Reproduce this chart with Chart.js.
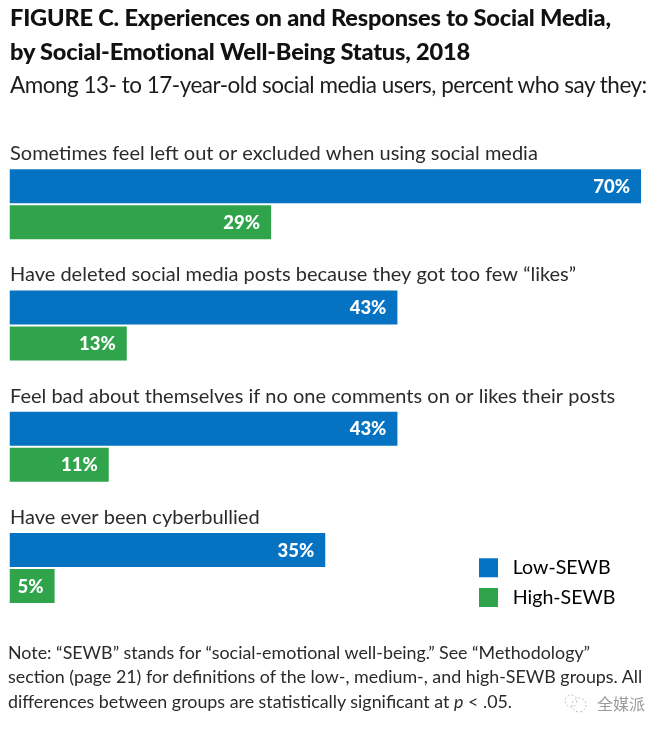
<!DOCTYPE html>
<html><head><meta charset="utf-8">
<script src="https://cdn.jsdelivr.net/npm/chart.js@4"></script>
<style>
html,body{margin:0;padding:0;background:#fff;}
#wrap{position:relative;width:665px;height:732px;overflow:hidden;}
canvas{position:absolute;left:0;top:0;}
svg{position:absolute;left:563px;top:694px;}
.t{position:absolute;white-space:nowrap;font-family:Lato,sans-serif;color:#1c1c1c;}
.h{left:10px;font-size:23.6px;font-weight:900;color:#111;letter-spacing:-.2px;}
.n{left:8px;font-size:17.85px;color:#2a2a2a;}
</style></head><body>
<div id="wrap">
<canvas id="c" width="665" height="732"></canvas>
<div class="t h" style="top:3px">FIGURE C. Experiences on and Responses to Social Media,</div>
<div class="t h" style="top:37px">by Social-Emotional Well-Being Status, 2018</div>
<div class="t" style="left:10px;top:71px;font-size:22.5px;font-weight:400;letter-spacing:-.5px">Among 13- to 17-year-old social media users, percent who say they:</div>
<div class="t n" style="top:641px">Note: “SEWB” stands for “social-emotional well-being.” See “Methodology”</div>
<div class="t n" style="top:665px">section (page 21) for definitions of the low-, medium-, and high-SEWB groups. All</div>
<div class="t n" style="top:690px">differences between groups are statistically significant at <i>p</i> &lt; .05.</div>
<svg width="26" height="20" viewBox="0 0 26 20" fill="none" stroke="#bdbdbd" stroke-width="1" stroke-dasharray="2 2"><circle cx="8" cy="7" r="6"/><circle cx="16" cy="11" r="7"/></svg>
<div class="t" style="left:597px;top:691px;font-size:16px;color:#9a9a9a;font-family:'Noto Sans CJK SC'">全媒派</div>
</div>
<script>
const categories = [
  "Sometimes feel left out or excluded when using social media",
  "Have deleted social media posts because they got too few “likes”",
  "Feel bad about themselves if no one comments on or likes their posts",
  "Have ever been cyberbullied"
];
const lowSEWB = [70, 43, 43, 35];
const highSEWB = [29, 13, 11, 5];
const seriesNames = ["Low-SEWB", "High-SEWB"];
const BLUE = "#0673c2", GREEN = "#2fa44b";

const textPlugin = {
  id: "barText",
  afterDatasetsDraw(chart) {
    const ctx = chart.ctx, y = chart.scales.y;
    ctx.save();
    ctx.textBaseline = "alphabetic";
    ctx.textAlign = "left";
    ctx.fillStyle = "#2b2b2b";
    ctx.font = "400 20px Lato, sans-serif";
    categories.forEach((c, i) => ctx.fillText(c, 10, y.getPixelForValue(i) - 44));
    ctx.fillStyle = "#fff";
    ctx.textAlign = "right";
    ctx.font = "900 18.5px Lato, sans-serif";
    chart.data.datasets.forEach((ds, d) => {
      chart.getDatasetMeta(d).data.forEach((el, i) => {
        ctx.fillText(ds.data[i] + "%", el.x - 11, el.y + 6.5);
      });
    });
    ctx.restore();
  }
};
const legendPlacer = {
  id: "legendPlacer",
  afterLayout(chart) {
    const l = chart.legend, p = l.options.labels.padding;
    l.left = 479 - p; l.right = l.left + l.width;
    l.top = 558 - p; l.bottom = l.top + l.height;
    l.adjustHitBoxes();
  }
};
new Chart(document.getElementById("c"), {
  type: "bar",
  data: {
    labels: categories,
    datasets: [
      { label: seriesNames[0], data: lowSEWB, backgroundColor: BLUE },
      { label: seriesNames[1], data: highSEWB, backgroundColor: GREEN }
    ]
  },
  options: {
    indexAxis: "y",
    responsive: false,
    animation: false,
    devicePixelRatio: 1,
    categoryPercentage: 0.5936,
    barPercentage: 0.944,
    layout: { padding: { left: 9.5, right: 24, top: 143.5, bottom: 103.3 } },
    scales: {
      x: { display: false, min: 0, max: 70 },
      y: { display: false }
    },
    plugins: {
      title: { display: false },
      tooltip: { enabled: false },
      legend: {
        position: "chartArea",
        align: "start",
        labels: {
          boxWidth: 19, boxHeight: 19, padding: 10,
          color: "#2b2b2b",
          font: { family: "Lato, sans-serif", size: 19.6, weight: "400" },
          generateLabels: ch => ch.data.datasets.map((ds, i) => ({
            text: "\u2005" + ds.label, fillStyle: ds.backgroundColor, strokeStyle: ds.backgroundColor,
            lineWidth: 0, datasetIndex: i, hidden: false
          }))
        }
      }
    }
  },
  plugins: [legendPlacer, textPlugin]
});
</script>
</body></html>
